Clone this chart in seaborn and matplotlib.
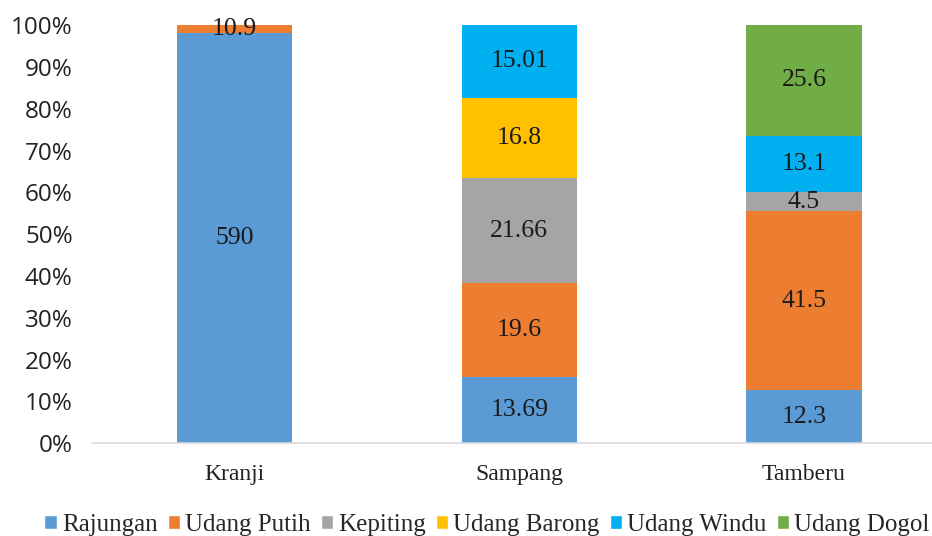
import pandas as pd
import seaborn as sns
import matplotlib.pyplot as plt
from matplotlib.patches import Patch

locations = ["Kranji", "Sampang", "Tamberu"]
rajungan = [590, 13.69, 12.3]
udang_putih = [10.9, 19.6, 41.5]
kepiting = [0, 21.66, 4.5]
udang_barong = [0, 16.8, 0]
udang_windu = [0, 15.01, 13.1]
udang_dogol = [0, 0, 25.6]

series = {
    "Rajungan": rajungan,
    "Udang Putih": udang_putih,
    "Kepiting": kepiting,
    "Udang Barong": udang_barong,
    "Udang Windu": udang_windu,
    "Udang Dogol": udang_dogol,
}
colors = ["#5B9BD5", "#ED7D31", "#A5A5A5", "#FFC000", "#00B0F0", "#70AD47"]

df = pd.DataFrame(series, index=locations)
totals = df.sum(axis=1)
pct = df.div(totals, axis=0) * 100

sns.set_style("white")
serif = ["Liberation Serif", "DejaVu Serif"]

fig, ax = plt.subplots(figsize=(9.32, 5.36), dpi=100)
fig.subplots_adjust(left=0.099, right=1.0, top=0.953, bottom=0.173)

bottom = pd.Series(0.0, index=locations)
for (name, col), color in zip(pct.items(), colors):
    sns.barplot(x=locations, y=col.values, ax=ax, color=color, width=0.405,
                bottom=bottom.values, saturation=1, linewidth=0, order=locations)
    for i, loc in enumerate(locations):
        raw = df.loc[loc, name]
        if raw > 0:
            ax.text(i, bottom[loc] + col[loc] / 2, f"{raw:g}", ha="center", va="center",
                    fontsize=18.5, family=serif, color="#1a1a1a")
    bottom = bottom + col

ax.set_ylim(0, 100)
ax.set_xlim(-0.5, 2.45)
ax.set_yticks(range(0, 101, 10))
ax.set_yticklabels([f"{v}%" for v in range(0, 101, 10)], fontsize=17.5,
                   family=["Open Sans", "DejaVu Sans"], color="#222222")
ax.set_xticks(range(len(locations)))
ax.set_xticklabels(locations, fontsize=17, family=serif, color="#222222")
ax.tick_params(axis="x", pad=15, length=0)
ax.tick_params(axis="y", length=0, pad=14)
for s in ["top", "right", "left"]:
    ax.spines[s].set_visible(False)
ax.spines["bottom"].set_color("#d9d9d9")
ax.spines["bottom"].set_linewidth(1.2)

handles = [Patch(facecolor=c, label=n) for n, c in zip(series, colors)]
ax.legend(handles=handles, loc="lower center", bbox_to_anchor=(0.47, -0.275),
          ncol=6, frameon=False, handlelength=0.5, handleheight=0.5,
          handletextpad=0.2, columnspacing=0.4,
          prop={"family": serif, "size": 18})

fig.savefig("out.png")
